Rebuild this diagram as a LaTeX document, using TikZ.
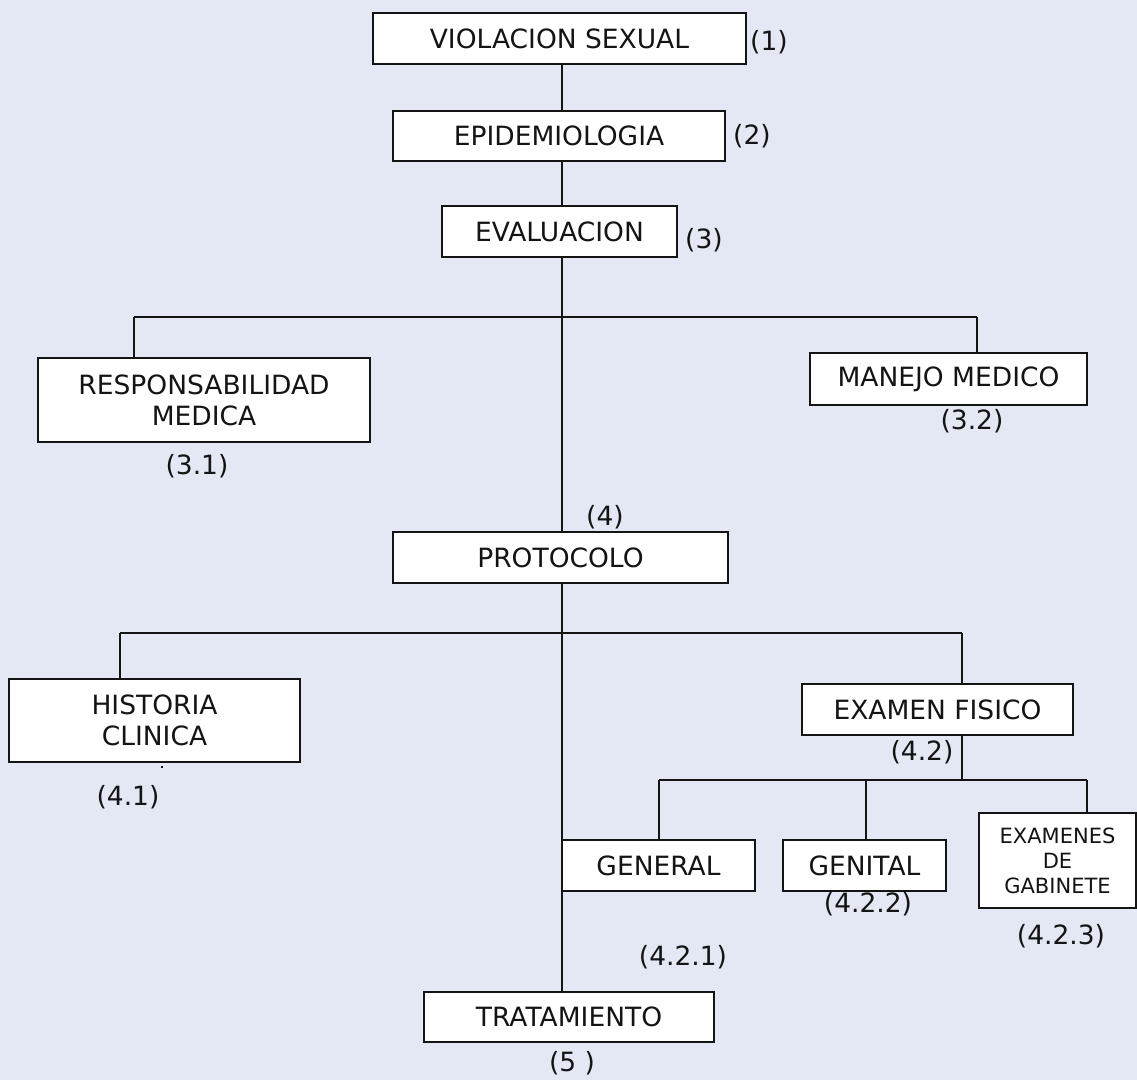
\documentclass[tikz,border=0pt]{standalone}
\usepackage{fontspec}
\setmainfont{DejaVu Sans}
\definecolor{pagebg}{HTML}{E4E8F4}
\definecolor{ink}{HTML}{141414}
\begin{document}
\begin{tikzpicture}[x=1pt,y=-1pt,
  box/.style={draw=ink,line width=1.8pt,fill=white,inner sep=0pt,align=center,
    text=ink,font=\fontsize{26.5}{31}\selectfont},
  smallbox/.style={box,font=\fontsize{21}{25}\selectfont},
  tag/.style={inner sep=0pt,font=\fontsize{26.5}{31}\selectfont,text=ink},
  link/.style={draw=ink,line width=1.8pt}]
\useasboundingbox (0,0) rectangle (1137,1080);
\fill[pagebg] (0,0) rectangle (1137,1080);

% trunk and branch points
\coordinate (t) at (562,0);
\coordinate (j1) at (562,317);
\coordinate (j1l) at (134,317);
\coordinate (j1r) at (977,317);
\coordinate (j2) at (562,633);
\coordinate (j2l) at (120,633);
\coordinate (j2r) at (962,633);
\coordinate (j3) at (962,780);
\coordinate (j3l) at (659,780);
\coordinate (j3m) at (866,780);
\coordinate (j3r) at (1087,780);

% horizontal bars (drawn first, boxes cover them)
\draw[link] (j1l) -- (j1r);
\draw[link] (j2l) -- (j2r);
\draw[link] (j3l) -- (j3r);

% boxes
\node[box,minimum width=373pt,minimum height=51pt] (viol) at (559.5,38.5) {VIOLACION SEXUAL};
\node[box,minimum width=332pt,minimum height=50pt] (epi) at (559,136) {EPIDEMIOLOGIA};
\node[box,minimum width=235pt,minimum height=51pt] (eval) at (559.5,231.5) {EVALUACION};
\node[box,minimum width=332pt,minimum height=84pt] (resp) at (204,400) {RESPONSABILIDAD\\MEDICA};
\node[box,minimum width=277pt,minimum height=52pt] (manejo) at (948.5,379) {MANEJO MEDICO};
\node[box,minimum width=335pt,minimum height=51pt] (proto) at (560.5,557.5) {PROTOCOLO};
\node[box,minimum width=291pt,minimum height=83pt] (hist) at (154.5,720.5) {HISTORIA\\CLINICA};
\node[box,minimum width=271pt,minimum height=51pt] (exf) at (937.5,709.5) {EXAMEN FISICO};
\node[box,minimum width=193pt,minimum height=51pt] (gen) at (658.5,865.5) {GENERAL};
\node[box,minimum width=163pt,minimum height=51pt] (genit) at (864.5,865.5) {GENITAL};
\node[smallbox,minimum width=157pt,minimum height=95pt] (exgab) at (1057.5,860.5) {EXAMENES\\DE\\GABINETE};
\node[box,minimum width=290pt,minimum height=50pt] (trat) at (569,1017) {TRATAMIENTO};

% vertical links
\draw[link] (viol.south -| t) -- (epi.north -| t);
\draw[link] (epi.south -| t) -- (eval.north -| t);
\draw[link] (eval.south -| t) -- (proto.north -| t);
\draw[link] (j1l) -- (j1l |- resp.north);
\draw[link] (j1r) -- (j1r |- manejo.north);
\draw[link] (proto.south -| t) -- (trat.north -| t);
\draw[link] (j2l) -- (j2l |- hist.north);
\draw[link] (j2r) -- (j2r |- exf.north);
\draw[link] (exf.south -| j3) -- (j3);
\draw[link] (j3l) -- (j3l |- gen.north);
\draw[link] (j3m) -- (j3m |- genit.north);
\draw[link] (j3r) -- (j3r |- exgab.north);

% section numbers
\node[tag] (n1) at (769,42) {(1)};
\node[tag] (n2) at (752,136) {(2)};
\node[tag] (n3) at (704,240) {(3)};
\node[tag] (n31) at (197,466) {(3.1)};
\node[tag] (n32) at (972,421) {(3.2)};
\node[tag] (n4) at (605,517) {(4)};
\node[tag] (n41) at (128,797) {(4.1)};
\node[tag] (n42) at (922,752) {(4.2)};
\node[tag] (n421) at (683,957) {(4.2.1)};
\node[tag] (n422) at (868,904) {(4.2.2)};
\node[tag] (n423) at (1061,936) {(4.2.3)};
\node[tag] (n5) at (572,1063) {(5 )};
\fill[ink] (161.2,766.2) rectangle (162.8,767.8);
\end{tikzpicture}
\end{document}
